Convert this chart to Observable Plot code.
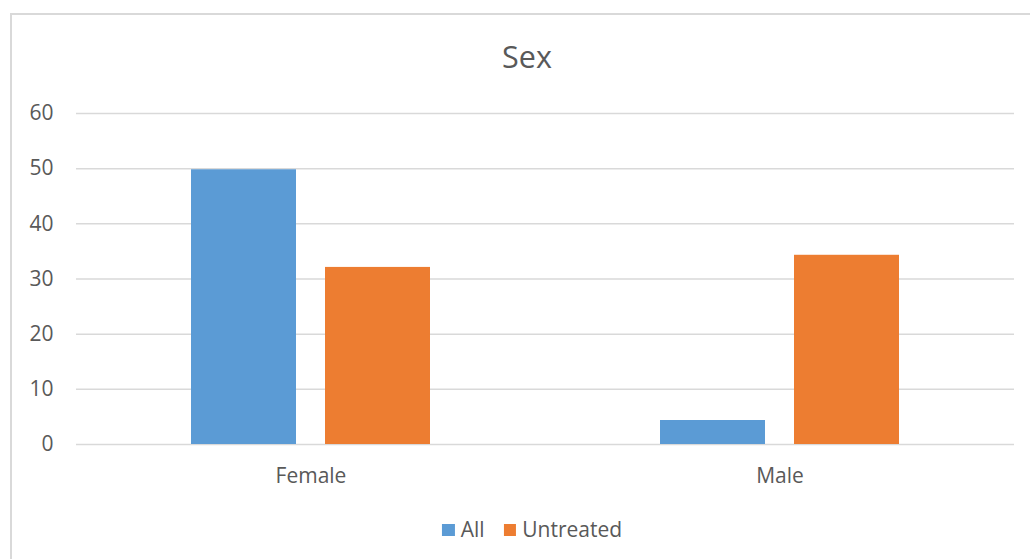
<!DOCTYPE html>
<html>
<head>
<meta charset="utf-8">
<script src="https://cdn.jsdelivr.net/npm/d3@7"></script>
<script src="https://cdn.jsdelivr.net/npm/@observablehq/plot@0.6"></script>
<style>
  html, body { margin: 0; padding: 0; background: #fff; }
  #wrap { position: relative; width: 1030px; height: 559px; overflow: hidden; font-family: "Open Sans", sans-serif; color: #595959; }
  #frame { position: absolute; left: 10px; top: 13px; width: 1100px; height: 700px; border-left: 2px solid #D9D9D9; border-top: 2px solid #D9D9D9; box-sizing: border-box; }
  #chart { position: absolute; left: 0; top: 0; }
  #title { position: absolute; top: 35px; left: 527px; transform: translateX(-50%); font-size: 30.5px; line-height: normal; white-space: nowrap; }
  #legend { position: absolute; top: 515px; left: 532px; transform: translateX(-50%); display: flex; align-items: center; font-size: 21px; line-height: normal; white-space: nowrap; }
  .item { display: flex; align-items: center; margin-right: 19px; }
  .item:last-child { margin-right: 0; }
  .sw { width: 12.7px; height: 12.7px; margin-right: 6px; margin-top: 2px; }
</style>
</head>
<body>
<div id="wrap">
  <div id="frame"></div>
  <div id="chart"></div>
  <div id="title">Sex</div>
  <div id="legend"></div>
</div>
<script>
const categories = ["Female", "Male"];
const series = ["All", "Untreated"];
const allValues = [49.8, 4.35];
const untreatedValues = [32.1, 34.3];
const yTicks = [0, 10, 20, 30, 40, 50, 60];
const colors = ["#5B9BD5", "#ED7D31"];

const data = categories.flatMap((c, i) => [
  {sex: c, series: series[0], value: allValues[i]},
  {sex: c, series: series[1], value: untreatedValues[i]}
]);

const chart = Plot.plot({
  width: 1030,
  height: 559,
  marginTop: 113,
  marginBottom: 115,
  marginLeft: 75,
  marginRight: 16,
  style: {fontFamily: "Open Sans, sans-serif", fontSize: "21px", color: "#595959", background: "transparent"},
  fx: {domain: categories, padding: 0, axis: "bottom", tickSize: 0, tickPadding: 24, label: null},
  x: {domain: series, paddingInner: 0.216, paddingOuter: 0.858, axis: null},
  y: {domain: [0, 60], ticks: yTicks, tickSize: 0, tickPadding: 23, label: null},
  color: {domain: series, range: colors},
  marks: [
    Plot.gridY(yTicks, {stroke: "#D9D9D9", strokeOpacity: 1, strokeWidth: 1.5}),
    Plot.barY(data, {fx: "sex", x: "series", y: "value", fill: "series"})
  ]
});
document.getElementById("chart").appendChild(chart);

const legend = document.getElementById("legend");
series.forEach((s, i) => {
  const item = document.createElement("div");
  item.className = "item";
  const sw = document.createElement("div");
  sw.className = "sw";
  sw.style.background = colors[i];
  const label = document.createElement("span");
  label.textContent = s;
  item.appendChild(sw);
  item.appendChild(label);
  legend.appendChild(item);
});
</script>
</body>
</html>
